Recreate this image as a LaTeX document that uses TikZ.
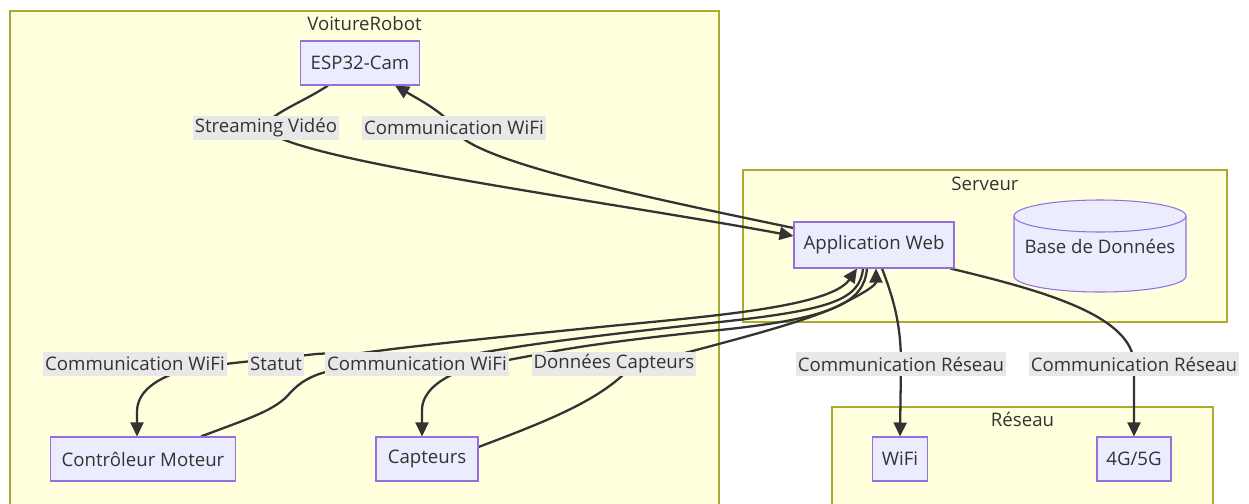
\documentclass[tikz,border=0pt]{standalone}
\usepackage{fontspec}
\setmainfont{Open Sans}
\usetikzlibrary{arrows.meta,calc,fit}
\definecolor{clusterfill}{HTML}{FFFFDE}
\definecolor{clusterline}{HTML}{AAAA33}
\definecolor{boxfill}{HTML}{ECECFF}
\definecolor{boxline}{HTML}{9370DB}
\definecolor{ink}{HTML}{333333}
\definecolor{tagfill}{HTML}{E8E8E8}
\pgfdeclarelayer{bg}\pgfdeclarelayer{edges}
\pgfsetlayers{bg,edges,main}

\begin{document}
\begin{tikzpicture}[x=.02cm,y=-.02cm,font=\fontsize{10.6}{12}\selectfont,text=ink,
  box/.style={draw=boxline,fill=boxfill,line width=.6pt,minimum height=.88cm,inner xsep=.18cm,inner ysep=0pt},
  tag/.style={fill=tagfill,minimum height=.48cm,inner xsep=.04cm,inner ysep=0pt},
  cluster/.style={draw=clusterline,fill=clusterfill,line width=.6pt,inner sep=0pt},
  flow/.style={draw=ink,line width=1.3pt,-{Triangle[length=2.8mm,width=2.6mm]}}]
\useasboundingbox (0,0) rectangle (1249,504);
\begin{pgfonlayer}{bg}
\fill[white] (0,0) rectangle (1249,504);
\node[cluster,fit={(10,11) (719,514)}] (robot) {};
\node[cluster,fit={(743,170) (1227,322)}] (srv) {};
\node[cluster,fit={(832,407) (1213,514)}] (net) {};
\end{pgfonlayer}
\node (robott) at ($(robot.north)+(0,13)$) {VoitureRobot};
\node (srvt) at ($(srv.north)+(0,14)$) {Serveur};
\node (nett) at ($(net.north)+(0,13)$) {Réseau};

\node[box,minimum width=2.38cm] (esp) at (360,63) {ESP32-Cam};
\node[box,minimum width=3.2cm,minimum height=.92cm] (app) at (874,245) {Application Web};
\node[minimum width=3.44cm,minimum height=1.84cm] (db) at (1100,246) {Base de Données};
\node[box,minimum width=3.7cm] (ctrl) at (143,459) {Contrôleur Moteur};
\node[box,minimum width=2.04cm] (capt) at (427,459) {Capteurs};
\node[box,minimum width=1.06cm] (wifi) at (900,459) {WiFi};
\node[box,minimum width=1.48cm] (lte) at (1134,459) {4G/5G};

\node[tag] (tsv) at (266,128) {Streaming Vidéo};
\node[tag] (twt) at (454,128) {Communication WiFi};
\node[tag] (twc) at (135,364) {Communication WiFi};
\node[tag] (tst) at (276,364) {Statut};
\node[tag] (twa) at (417,364) {Communication WiFi};
\node[tag] (tdc) at (614,364) {Données Capteurs};
\node[tag] (tr1) at (901,364) {Communication Réseau};
\node[tag] (tr2) at (1134,364) {Communication Réseau};

\begin{pgfonlayer}{edges}
\draw[fill=boxfill,draw=boxline,line width=.6pt] ($(db.center)+(-86,-30)$) -- ++(0,60)
  arc[start angle=180,end angle=360,x radius=1.72cm,y radius=.32cm] -- ++(0,-60)
  arc[start angle=0,end angle=180,x radius=1.72cm,y radius=.32cm] -- cycle;
\draw[draw=boxline,line width=.6pt] ($(db.center)+(-86,-30)$) arc[start angle=180,end angle=360,x radius=1.72cm,y radius=.32cm];

\draw[flow] ($(esp.south)+(-32,0)$) .. controls (300,104) and (268,114) .. (tsv.center)
  .. controls (278,158) and (600,200) .. ($(app.west)+(0,-9)$);
\draw[flow] ($(app.west)+(0,-17)$) .. controls (650,198) and (464,160) .. (twt.center)
  .. controls (446,114) and (420,100) .. ($(esp.south)+(35,0)$);
\draw[flow] ($(app.south)+(-11,0)$) .. controls (860,300) and (830,310) .. (720,322)
  .. controls (600,335) and (520,345) .. (470,355) .. controls (400,356) and (340,352) .. (316,354)
  .. controls (290,357) and (250,361) .. (190,368) .. controls (155,378) and (137,392) .. (137,412)
  -- ($(ctrl.north)+(-6,0)$);
\draw[flow] ($(ctrl.north)+(58,0)$) .. controls (250,418) and (276,410) .. (290,393)
  .. controls (300,382) and (312,375) .. (330,371) .. controls (345,367) and (350,356) .. (362,353)
  .. controls (420,345) and (520,335) .. (600,327) .. controls (700,317) and (830,308) .. ($(app.south)+(-17,0)$);
\draw[flow] ($(app.south)+(-7,0)$) .. controls (864,302) and (835,318) .. (720,330)
  .. controls (640,338) and (580,346) .. (545,353) .. controls (520,358) and (495,362) .. (470,368)
  .. controls (445,375) and (422,390) .. (422,410) -- ($(capt.north)+(-5,0)$);
\draw[flow] ($(capt.east)+(0,-12)$) .. controls (550,420) and (600,400) .. (630,368)
  .. controls (700,348) and (800,325) .. (840,305) .. controls (866,292) and (876,285) .. ($(app.south)+(2,0)$);
\draw[flow] ($(app.south)+(8,0)$) .. controls (894,300) and (901,325) .. (tr1.center) -- (wifi.north);
\draw[flow] ($(app.south east)+(-4,0)$) .. controls (1040,290) and (1133,315) .. (tr2.center) -- (lte.north);
\end{pgfonlayer}
\end{tikzpicture}
\end{document}
